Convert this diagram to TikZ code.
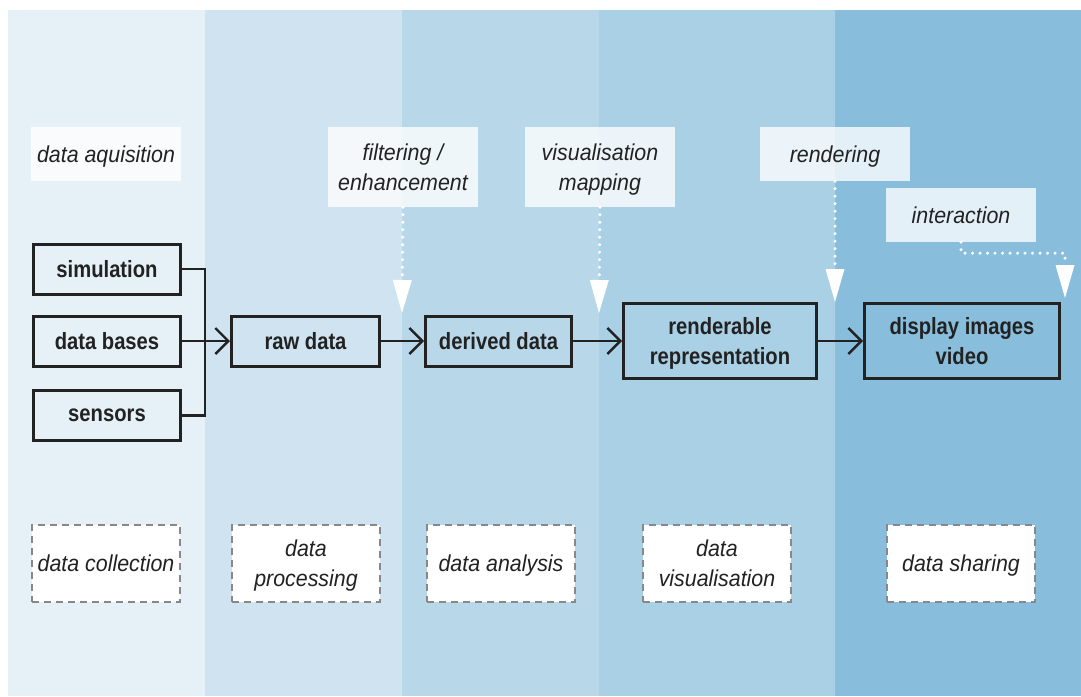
\documentclass[tikz,border=0pt]{standalone}
\usepackage{fontspec}
\setmainfont[FakeStretch=0.86]{Liberation Sans}
\newfontfamily\itfam[FakeStretch=0.93]{Liberation Sans}
\usetikzlibrary{arrows.meta}
\definecolor{colA}{HTML}{E5F0F7}
\definecolor{colB}{HTML}{CFE3F0}
\definecolor{colC}{HTML}{B8D8EA}
\definecolor{colD}{HTML}{A9D0E5}
\definecolor{colE}{HTML}{88BEDC}
\definecolor{ink}{HTML}{222222}
\definecolor{dashgray}{HTML}{888888}
\tikzset{
  mainbox/.style={draw=ink, line width=3pt, text=ink, align=center,
    font=\fontsize{23.5}{30}\selectfont\bfseries, inner sep=0pt, text depth=-3pt,
    minimum width=#1, minimum height=50pt},
  mainbox/.default=147pt,
  labelbox/.style={fill=white, fill opacity=0.78, text opacity=1, text=ink,
    align=center, font=\itfam\fontsize{23}{30}\selectfont\itshape, inner sep=0pt,
    text depth=-3pt, minimum width=150pt, minimum height=#1},
  labelbox/.default=54pt,
  phasebox/.style={fill=white, draw=dashgray, line width=2pt,
    dash pattern=on 7pt off 5pt, text=ink, align=center,
    font=\itfam\fontsize{23}{30}\selectfont\itshape, inner sep=0pt, text depth=-3pt,
    minimum width=148pt, minimum height=77pt},
  flow/.style={draw=ink, line width=2.4pt, -{Straight Barb[length=13pt,width=26pt]}},
  plain/.style={draw=ink, line width=2.4pt},
  hint/.style={draw=white, line width=3.4pt, line cap=round,
    dash pattern=on 0pt off 7.5pt,
    -{Triangle[width=19pt,length=33pt,fill=white,line width=0pt]}},
}
\begin{document}
\begin{tikzpicture}[x=1pt,y=-1pt]
\useasboundingbox (0,0) rectangle (1081,696);
% background columns
\fill[colA] (8,10) rectangle (205,696);
\fill[colB] (205,10) rectangle (402,696);
\fill[colC] (402,10) rectangle (599,696);
\fill[colD] (599,10) rectangle (835,696);
\fill[colE] (835,10) rectangle (1081,696);

% label boxes
\node[labelbox] (aq) at (106,154) {data aquisition};
\node[labelbox=80pt] (filt) at (403,167) {filtering /\\enhancement};
\node[labelbox=80pt] (vmap) at (600,167) {visualisation\\mapping};
\node[labelbox] (rend) at (835,154) {rendering};
\node[labelbox] (inter) at (961,215) {interaction};

% main nodes
\node[mainbox] (sim) at (107,269) {simulation};
\node[mainbox] (db) at (107,341) {data bases};
\node[mainbox] (sens) at (107,415.5) {sensors};
\node[mainbox=148pt] (raw) at (305.5,341) {raw data};
\node[mainbox=146pt] (der) at (498.5,341) {derived data};
\node[mainbox=193pt, minimum height=75pt] (repr) at (720,341) {renderable\\representation};
\node[mainbox=195pt, minimum height=75pt] (disp) at (962,341) {display images\\video};

% phase boxes
\node[phasebox] (pcoll) at (106,563.5) {data collection};
\node[phasebox] (pproc) at (306,563.5) {data\\processing};
\node[phasebox] (pana) at (501,563.5) {data analysis};
\node[phasebox] (pvis) at (717,563.5) {data\\visualisation};
\node[phasebox] (pshare) at (961,563.5) {data sharing};

% connectors
\draw[plain] (sim.east) -- (205,269) -- (205,415.5) -- (sens.east);
\draw[flow] (db.east) -- (raw.west);
\draw[flow] (raw.east) -- (der.west);
\draw[flow] (der.east) -- (repr.west);
\draw[flow] (repr.east) -- (disp.west);

% hint arrows
\coordinate (tf) at (402,313);
\coordinate (tv) at (599,313);
\coordinate (tr) at (835,302);
\coordinate (ti) at (1065,298);
\draw[hint] (filt.south) -- (tf);
\draw[hint] (vmap.south) -- (tv);
\draw[hint] (rend.south) -- (tr);
\draw[hint] (inter.south) -- ++(0,11) -| (ti);
\end{tikzpicture}
\end{document}
